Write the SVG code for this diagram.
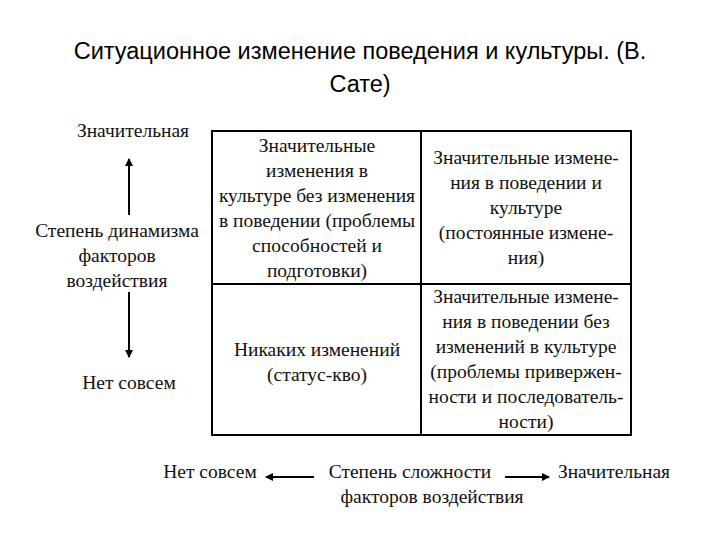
<svg xmlns="http://www.w3.org/2000/svg" width="720" height="540" viewBox="0 0 720 540">
<style>
.t{font-family:"Liberation Serif","Times New Roman",serif;font-size:19.5px;fill:#111;text-anchor:middle}
.h{font-family:"Liberation Sans",Arial,sans-serif;font-size:23.5px;fill:#000;text-anchor:middle}
.l{stroke:#000;stroke-width:2;fill:none}
</style>
<defs><marker id="a" markerWidth="8" markerHeight="8" refX="7" refY="4" orient="auto" markerUnits="userSpaceOnUse"><path d="M0,0 L8,4 L0,8z" fill="#000"/></marker></defs>
<rect width="720" height="540" fill="#fff"/>
<g id="title"><text class="h" x="360" y="59">Ситуационное изменение поведения и культуры. (В.</text><text class="h" x="360" y="92">Сате)</text></g>
<g id="grid"><rect class="l" x="212" y="131" width="419" height="304"/><line class="l" x1="421" y1="131" x2="421" y2="435"/><line class="l" x1="212" y1="284" x2="631" y2="284"/></g>
<g id="q1"><text class="t" x="317" y="152">Значительные</text><text class="t" x="317" y="177">изменения в</text><text class="t" x="317" y="202">культуре без изменения</text><text class="t" x="317" y="227">в поведении (проблемы</text><text class="t" x="317" y="252">способностей и</text><text class="t" x="317" y="277">подготовки)</text></g>
<g id="q2"><text class="t" x="526" y="164">Значительные измене-</text><text class="t" x="526" y="189">ния в поведении и</text><text class="t" x="526" y="214">культуре</text><text class="t" x="526" y="239">(постоянные измене-</text><text class="t" x="526" y="264">ния)</text></g>
<g id="q3"><text class="t" x="317" y="356">Никаких изменений</text><text class="t" x="317" y="381">(статус-кво)</text></g>
<g id="q4"><text class="t" x="526" y="303">Значительные измене-</text><text class="t" x="526" y="328">ния в поведении без</text><text class="t" x="526" y="353">изменений в культуре</text><text class="t" x="526" y="378">(проблемы привержен-</text><text class="t" x="526" y="403">ности и последователь-</text><text class="t" x="526" y="428">ности)</text></g>
<g id="yaxis"><text class="t" x="133" y="137">Значительная</text><text class="t" x="117" y="237">Степень динамизма</text><text class="t" x="117" y="262">факторов</text><text class="t" x="117" y="287">воздействия</text><text class="t" x="129" y="389">Нет совсем</text></g>
<g id="xaxis"><text class="t" x="210" y="478">Нет совсем</text><text class="t" x="410" y="478">Степень сложности</text><text class="t" x="432" y="503">факторов воздействия</text><text class="t" x="614" y="478">Значительная</text></g>
<g id="connectors"><line class="l" x1="129" y1="215" x2="129" y2="159" marker-end="url(#a)"/><line class="l" x1="129" y1="292" x2="129" y2="357" marker-end="url(#a)"/><line class="l" x1="314" y1="477" x2="266" y2="477" marker-end="url(#a)"/><line class="l" x1="505" y1="477" x2="549" y2="477" marker-end="url(#a)"/></g>
</svg>
